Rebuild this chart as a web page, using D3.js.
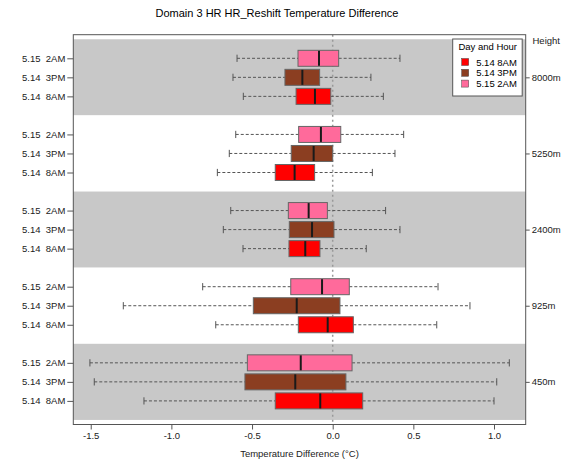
<!DOCTYPE html>
<html>
<head>
<meta charset="utf-8">
<script src="https://cdn.jsdelivr.net/npm/d3@7"></script>
<style>
	body { margin: 0; background: #fff; }
	svg { font-family: "Liberation Sans", Arial, sans-serif; }
	.axis text { fill: #222; font-size: 9.5px; }
	.axis line { stroke: #555; }
	.axis path { display: none; }
</style>
</head>
<body>
<svg class="chart"></svg>
<script>
// heights, top to bottom
var heights = ['8000m', '5250m', '2400m', '925m', '450m'];

// series (legend order)
var series = ['5.14 8AM', '5.14 3PM', '5.15 2AM'];
var rowLabels = ['5.14  8AM', '5.14  3PM', '5.15  2AM'];
var colors = ['#ff0000', '#8b3e21', '#ff6a9b'];

// box stats per height: [whisker low, q1, median, q3, whisker high]
var am8_0514 = [
	[-0.554, -0.227, -0.110, -0.012, 0.314],
	[-0.715, -0.356, -0.236, -0.112, 0.246],
	[-0.556, -0.271, -0.170, -0.079, 0.208],
	[-0.725, -0.213, -0.031, 0.128, 0.645],
	[-1.170, -0.356, -0.077, 0.186, 1.000]
];
var pm3_0514 = [
	[-0.618, -0.296, -0.188, -0.081, 0.237],
	[-0.641, -0.257, -0.118, 0.000, 0.386],
	[-0.678, -0.269, -0.128, 0.008, 0.417],
	[-1.298, -0.492, -0.223, 0.045, 0.851],
	[-1.478, -0.544, -0.232, 0.082, 1.017]
];
var am2_0515 = [
	[-0.593, -0.215, -0.085, 0.037, 0.417],
	[-0.601, -0.211, -0.073, 0.050, 0.440],
	[-0.632, -0.275, -0.149, -0.033, 0.328],
	[-0.806, -0.260, -0.066, 0.103, 0.653],
	[-1.505, -0.529, -0.198, 0.120, 1.095]
];

var xTicks = [-1.5, -1.0, -0.5, 0.0, 0.5, 1.0];

var stats = [am8_0514, pm3_0514, am2_0515];

var W = 565, H = 462;
// plot area edges (avoid the global "top")
var pL = 73.3, pR = 525.7, pT = 34.7, pB = 424.5;

var svg = d3.select('.chart').attr('width', W).attr('height', H);

var x = d3.scaleLinear().domain([-1.608, 1.1965]).range([pL, pR]);
var y = d3.scaleLinear().domain([-0.24, 20.24]).range([pB, pT]);

// build one record per box; groups counted from the bottom
var boxes = [];
heights.forEach(function(h, g) {
	var gb = heights.length - 1 - g;
	series.forEach(function(s, i) {
		var st = stats[i][g];
		boxes.push({pos: gb * 4 + 1 + i, s: i, lo: st[0], q1: st[1], med: st[2], q3: st[3], hi: st[4]});
	});
});

// background bands
var bands = heights.map(function(h, g) { return heights.length - 1 - g; });
svg.selectAll('.band')
	.data(bands)
	.enter().append('rect')
	.attr('x', pL)
	.attr('width', pR - pL)
	.attr('y', function(gb) { return y(gb * 4 + 4); })
	.attr('height', function(gb) { return y(gb * 4) - y(gb * 4 + 4); })
	.attr('fill', function(gb) { return gb % 2 === 0 ? '#c8c8c8' : '#fff'; });

// zero line
svg.append('line')
	.attr('x1', x(0)).attr('x2', x(0))
	.attr('y1', pT).attr('y2', pB)
	.attr('stroke', '#999')
	.attr('stroke-width', 1.5)
	.attr('stroke-dasharray', '2,3');

var bw = 0.84, cap = 0.38;

var box = svg.selectAll('.box')
	.data(boxes)
	.enter().append('g')
	.attr('class', 'box');

// whiskers
box.append('line')
	.attr('x1', function(d) { return x(d.lo); })
	.attr('x2', function(d) { return x(d.q1); })
	.attr('y1', function(d) { return y(d.pos); })
	.attr('y2', function(d) { return y(d.pos); });
box.append('line')
	.attr('x1', function(d) { return x(d.q3); })
	.attr('x2', function(d) { return x(d.hi); })
	.attr('y1', function(d) { return y(d.pos); })
	.attr('y2', function(d) { return y(d.pos); });
box.selectAll('line')
	.attr('stroke', '#555')
	.attr('stroke-dasharray', '3,2');

// caps
['lo', 'hi'].forEach(function(k) {
	box.append('line')
		.attr('x1', function(d) { return x(d[k]); })
		.attr('x2', function(d) { return x(d[k]); })
		.attr('y1', function(d) { return y(d.pos + cap / 2); })
		.attr('y2', function(d) { return y(d.pos - cap / 2); })
		.attr('stroke', '#555');
});

box.append('rect')
	.attr('x', function(d) { return x(d.q1); })
	.attr('width', function(d) { return x(d.q3) - x(d.q1); })
	.attr('y', function(d) { return y(d.pos + bw / 2); })
	.attr('height', function(d) { return y(d.pos - bw / 2) - y(d.pos + bw / 2); })
	.attr('fill', function(d) { return colors[d.s]; })
	.attr('stroke', '#666')
	.attr('stroke-width', 1);

box.append('line')
	.attr('x1', function(d) { return x(d.med); })
	.attr('x2', function(d) { return x(d.med); })
	.attr('y1', function(d) { return y(d.pos + bw / 2) + 0.5; })
	.attr('y2', function(d) { return y(d.pos - bw / 2) - 0.5; })
	.attr('stroke', '#1a1a1a')
	.attr('stroke-width', 2);

// frame
svg.append('rect')
	.attr('x', pL).attr('y', pT)
	.attr('width', pR - pL).attr('height', pB - pT)
	.attr('fill', 'none')
	.attr('stroke', '#555');

// axes
var xAxis = d3.axisBottom(x)
	.tickValues(xTicks)
	.tickFormat(function(d) { return d.toFixed(1); })
	.tickSize(5)
	.tickPadding(3);
svg.append('g')
	.attr('class', 'x axis')
	.attr('transform', 'translate(0,' + pB + ')')
	.call(xAxis);

var rowPos = boxes.map(function(d) { return d.pos; });
var yAxis = d3.axisLeft(y)
	.tickValues(rowPos)
	.tickFormat(function(p) { return rowLabels[(p - 1) % 4]; })
	.tickSize(6)
	.tickPadding(2);
svg.append('g')
	.attr('class', 'y axis')
	.attr('transform', 'translate(' + pL + ',0)')
	.call(yAxis)
	.selectAll('text')
	.style('white-space', 'pre');

var rAxis = d3.axisRight(y)
	.tickValues(bands.map(function(gb) { return gb * 4 + 2; }))
	.tickFormat(function(p) { return heights[heights.length - 1 - (p - 2) / 4]; })
	.tickSize(4)
	.tickPadding(2);
svg.append('g')
	.attr('class', 'r axis')
	.attr('transform', 'translate(' + pR + ',0)')
	.call(rAxis);

svg.append('text')
	.attr('x', 532.5).attr('y', 44)
	.style('font-size', '9.5px')
	.attr('fill', '#222')
	.text('Height');

// titles
svg.append('text')
	.attr('x', 277).attr('y', 17)
	.attr('text-anchor', 'middle')
	.style('font-size', '11px')
	.text('Domain 3 HR HR_Reshift Temperature Difference');

svg.append('text')
	.attr('x', (pL + pR) / 2).attr('y', 457)
	.attr('text-anchor', 'middle')
	.style('font-size', '9.5px')
	.attr('fill', '#222')
	.text('Temperature Difference (\u00b0C)');

// legend
var lg = svg.append('g').attr('transform', 'translate(452.7,39)');
lg.append('rect')
	.attr('width', 69.5).attr('height', 57)
	.attr('fill', '#fff')
	.attr('stroke', '#555');
lg.append('text')
	.attr('x', 35).attr('y', 11)
	.attr('text-anchor', 'middle')
	.style('font-size', '9.5px')
	.text('Day and Hour');
var item = lg.selectAll('.item')
	.data(series)
	.enter().append('g')
	.attr('transform', function(d, i) { return 'translate(0,' + (23 + i * 10.8) + ')'; });
item.append('rect')
	.attr('x', 9).attr('y', -3.5)
	.attr('width', 7).attr('height', 7)
	.attr('fill', function(d, i) { return colors[i]; })
	.attr('stroke', '#444')
	.attr('stroke-width', 0.5);
item.append('text')
	.attr('x', 23.5).attr('y', 3.5)
	.style('font-size', '9.5px')
	.text(function(d) { return d; });
</script>
</body>
</html>
